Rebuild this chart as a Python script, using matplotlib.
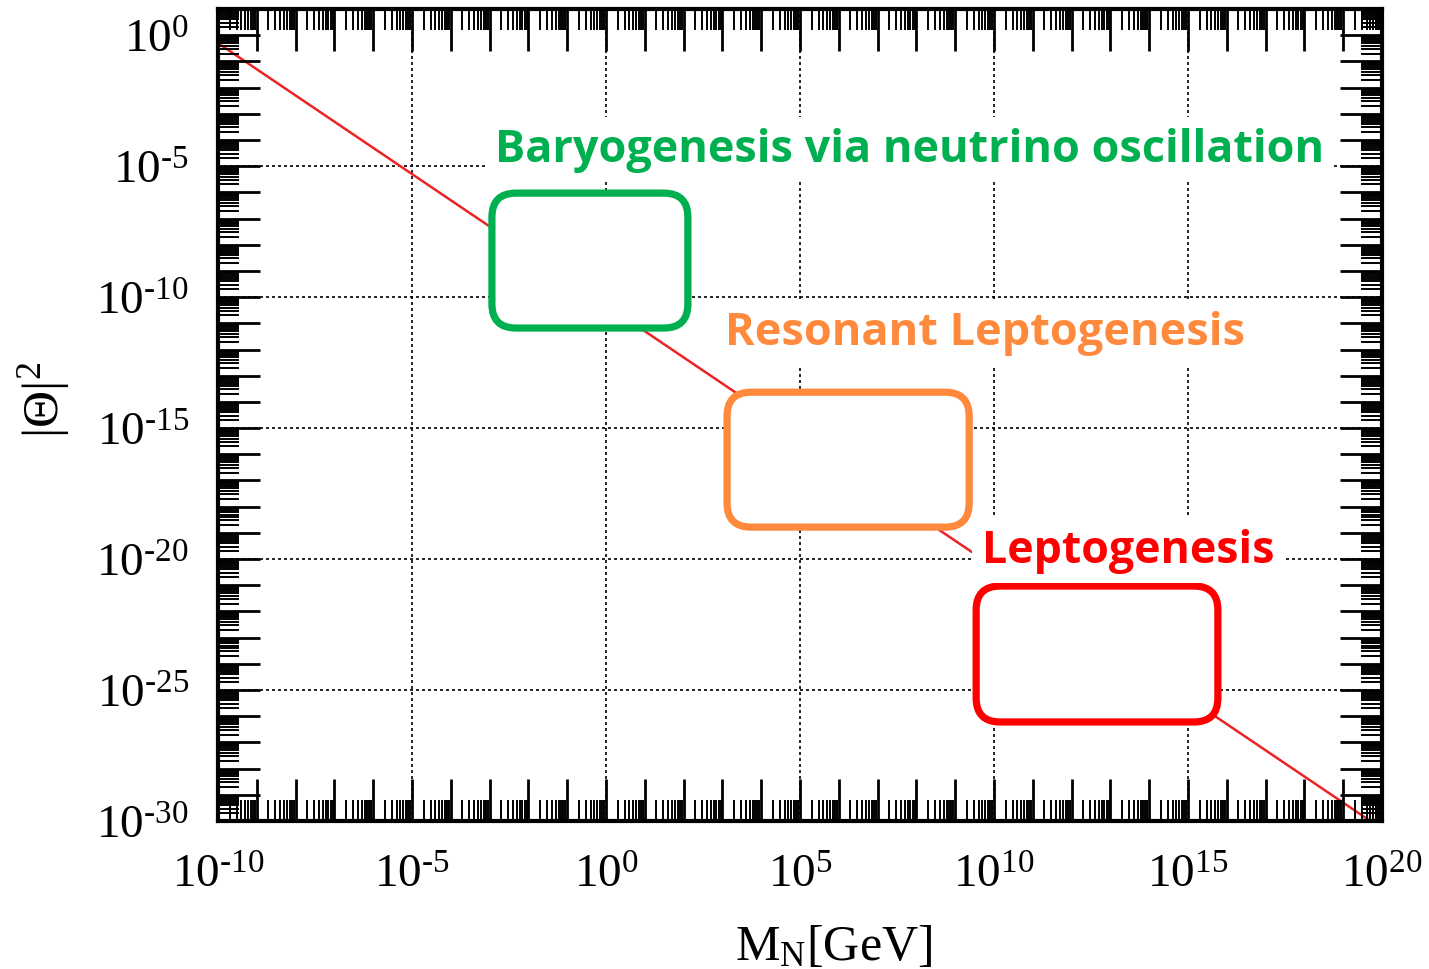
import numpy as np
import matplotlib
matplotlib.use('Agg')
import matplotlib.pyplot as plt
from matplotlib import font_manager
from matplotlib.ticker import LogLocator, FuncFormatter, NullFormatter
from matplotlib.patches import FancyBboxPatch
from matplotlib.transforms import IdentityTransform

# ---------------- data ----------------
line_M = [1e-10, 5e19]          # M_N [GeV]
line_theta2 = [5e-1, 1e-30]     # |Theta|^2

x_lim = [1e-10, 1e20]
y_lim = [1e-30, 1e1]
x_grid = [1e-5, 1e0, 1e5, 1e10, 1e15]
y_grid = [1e-5, 1e-10, 1e-15, 1e-20, 1e-25]

region_names = ['Baryogenesis via neutrino oscillation',
                'Resonant Leptogenesis',
                'Leptogenesis']
region_colors = ['#00B050', '#FF8A3D', '#FF0000']
# region boxes: log10 ranges of M_N and |Theta|^2
box_logM = [(-2.94, 2.11), (3.12, 9.36), (9.54, 15.77)]
box_logT = [(-11.18, -6.03), (-18.78, -13.63), (-26.22, -21.03)]

# ---------------- layout / style ----------------
label_logM = [-2.86, 3.07, 9.69]      # left edge of region labels
label_logT = [-4.81, -11.79, -20.11]  # baseline of region labels
label_width_px = [830, 520, 293]

plt.rcParams['font.family'] = ['Liberation Serif', 'DejaVu Serif']
plt.rcParams['mathtext.fontset'] = 'custom'
plt.rcParams['mathtext.rm'] = 'Liberation Serif'
plt.rcParams['mathtext.it'] = 'Liberation Serif:italic'
plt.rcParams['mathtext.bf'] = 'Liberation Serif:bold'
plt.rcParams['mathtext.default'] = 'rm'

# pick a sans family that really has a bold face installed
bold_family = 'DejaVu Sans'
for fam in ['Noto Sans', 'Open Sans', 'Noto Sans CJK JP', 'Roboto', 'Lato']:
    if any(f.name == fam and (f.weight in ('bold', 700) or str(f.weight) == '700')
           for f in font_manager.fontManager.ttflist):
        bold_family = fam
        break

W, H = 1429, 970
fig = plt.figure(figsize=(W / 100, H / 100), dpi=100)
ax = fig.add_axes([218 / W, 1 - 822 / H, (1382 - 218) / W, (822 - 10) / H])
ax.set_xscale('log')
ax.set_yscale('log')
ax.set_xlim(*x_lim)
ax.set_ylim(*y_lim)


def fmt(v, pos):
    e = int(round(np.log10(v)))
    if e % 5 != 0:
        return ''
    if e < 0:
        return r'$10^{\text{-}%d}$' % (-e)
    return r'$10^{%d}$' % e


for axis in (ax.xaxis, ax.yaxis):
    axis.set_major_locator(LogLocator(base=10, numticks=100))
    axis.set_minor_locator(LogLocator(base=10, subs=np.arange(2, 10), numticks=100))
    axis.set_major_formatter(FuncFormatter(fmt))
    axis.set_minor_formatter(NullFormatter())

ax.tick_params(which='both', direction='in', top=True, right=True)
ax.tick_params(which='major', length=30, width=2.0, labelsize=34)
ax.tick_params(which='minor', length=15, width=1.4)
ax.tick_params(axis='x', which='major', pad=24)
ax.tick_params(axis='y', which='major', pad=21)
for sp in ax.spines.values():
    sp.set_linewidth(3)
ax.set_axisbelow(False)

# grid
for gx in x_grid:
    ax.axvline(gx, color='black', lw=1.2, ls=(0, (1.8, 1.8)), zorder=1)
for gy in y_grid:
    ax.axhline(gy, color='black', lw=1.2, ls=(0, (1.8, 1.8)), zorder=1)

# seesaw line
ax.plot(line_M, line_theta2, color='#EE2222', lw=1.8, zorder=1.5)

# axis labels
ax.set_xlabel(r'$\mathrm{M_N[GeV]}$', fontsize=36, va='baseline')
ax.xaxis.set_label_coords((834 - 218) / 1164, -(960 - 822) / 812)
ax.set_ylabel(r'$|\Theta|^2$', fontsize=37, va='center')
ax.yaxis.set_label_coords((44 - 218) / 1164, (822 - 400) / 812)

# region boxes (rounded, in pixel space)
for (mx0, mx1), (ty0, ty1), c in zip(box_logM, box_logT, region_colors):
    p0 = ax.transData.transform((10 ** mx0, 10 ** ty0))
    p1 = ax.transData.transform((10 ** mx1, 10 ** ty1))
    patch = FancyBboxPatch((p0[0], p0[1]), p1[0] - p0[0], p1[1] - p0[1],
                           boxstyle='round,pad=0,rounding_size=24',
                           transform=IdentityTransform(), fc='white', ec=c,
                           lw=5.2, zorder=2.0)
    ax.add_patch(patch)

# region labels
texts = []
for name, c, lx, ly in zip(region_names, region_colors, label_logM, label_logT):
    t = ax.text(10 ** lx, 10 ** ly, name, color=c, fontsize=30,
                fontweight='bold', family=[bold_family, 'DejaVu Sans'],
                ha='left', va='baseline', zorder=2.2,
                bbox=dict(boxstyle='square,pad=0.22', fc='white', ec='none'))
    texts.append(t)

fig.canvas.draw()
r = fig.canvas.get_renderer()
for t, wt in zip(texts, label_width_px):
    w = t.get_window_extent(r).width
    t.set_fontsize(30 * wt / w)

fig.savefig('out.png', dpi=100)
